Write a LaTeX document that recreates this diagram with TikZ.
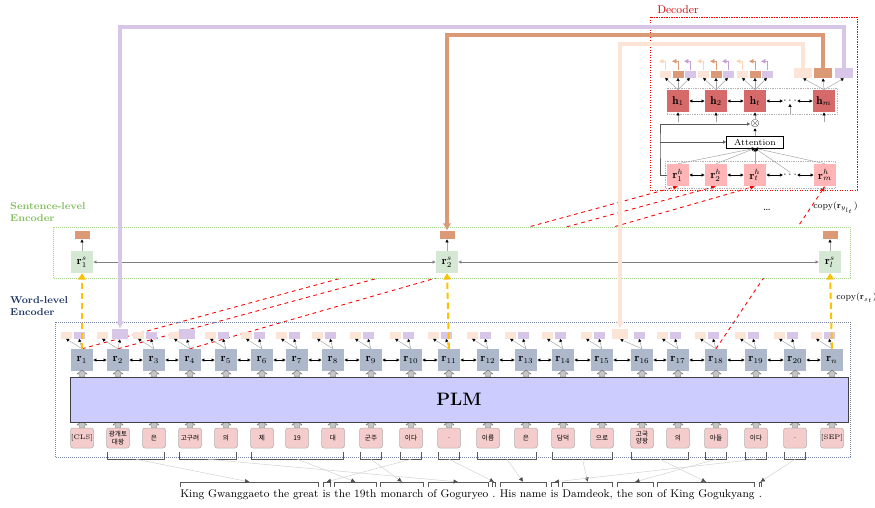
\documentclass[tikz,border=0pt]{standalone}
\usepackage{fontspec}
\newfontfamily\krfont{Noto Sans CJK KR}
\usetikzlibrary{arrows.meta,positioning,calc,backgrounds}

\definecolor{wordgray}{RGB}{173,185,202}
\definecolor{sentgreen}{RGB}{213,232,212}
\definecolor{hred}{RGB}{214,106,106}
\definecolor{rhpink}{RGB}{255,181,181}
\definecolor{tokpink}{RGB}{244,204,204}
\definecolor{peach}{RGB}{252,228,214}
\definecolor{copyorange}{RGB}{220,153,117}
\definecolor{lavender}{RGB}{215,198,232}
\definecolor{plmblue}{RGB}{204,204,255}
\definecolor{gold}{RGB}{255,192,0}
\definecolor{decred}{RGB}{204,0,0}
\definecolor{encgreen}{RGB}{130,190,90}
\definecolor{encblue}{RGB}{31,56,100}

\tikzset{
  uparr/.pic={\draw[fill=gray!45, draw=gray!75!black, line width=0.3pt]
    (-2.5,3) -- (-2.5,0) -- (-5,0) -- (0,-4) -- (5,0) -- (2.5,0) -- (2.5,3) -- cycle;}
}

\begin{document}
\begin{tikzpicture}[x=0.8pt, y=-0.8pt, every node/.style={inner sep=0pt, font=\small},
  wnode/.style={fill=wordgray, minimum width=17.6pt, minimum height=17.6pt},
  snode/.style={fill=sentgreen, minimum size=17.6pt},
  hnode/.style={fill=hred, minimum size=17.6pt},
  rhnode/.style={fill=rhpink, minimum size=17.6pt},
  sbox/.style={minimum width=8.8pt, minimum height=5.6pt},
  bigbox/.style={minimum width=12.8pt, minimum height=8pt},
  tok/.style={fill=tokpink, draw=gray!60, rounded corners=2pt, minimum width=18.4pt,
    minimum height=16pt, align=center, font=\krfont\fontsize{5.3}{5.8}\selectfont},
  biarr/.style={{Latex[length=2.5pt,width=2.8pt]}-{Latex[length=2.5pt,width=2.8pt]}, line width=0.5pt},
  smallarr/.style={gray!70, line width=0.4pt, -{Latex[length=2.5pt,width=2.8pt,color=black]}},
  fbtip/.style={line width=0.4pt, -{Latex[length=3.5pt,width=4pt]}},
  copyline/.style={line width=2.8pt, -{Latex[length=6pt,width=7pt]}},
  reddash/.style={red, dashed, line width=0.7pt, -{Latex[length=4pt,width=4pt]}},
  golddash/.style={gold, line width=1.6pt, dash pattern=on 5pt off 3pt, -{Triangle[length=5pt,width=6pt]}},
  eword/.style={font=\fontsize{8.9}{11}\selectfont, text height=6.3pt, text depth=0pt},
  link/.style={gray!35, line width=0.4pt, -{Latex[length=3.5pt,width=3.5pt,color=gray!60!black]}},
  brk/.style={gray!70!black, line width=0.5pt}]
\useasboundingbox (0,0) rectangle (875,507);

% word-level encoder
\draw[encblue!60, densely dotted, line width=0.6pt] (55,322) rectangle (850,457);
\node[font=\footnotesize\bfseries, text=encblue, align=left, anchor=north west] (wlab) at (10,296) {Word-level\\Encoder};
\foreach \x [count=\i] in {82,118,154,190,226,262,297,333,371,411,449,488,526,563,602,642,678,716,756,795,832} {
  \node[wnode] (w\i) at (\x,360) {$\mathbf{r}_{\ifnum\i=21 n\else\i\fi}$};
  \ifnum\i=16 \node[bigbox, fill=peach] (p\i) at (\x-22,334) {};
  \else \node[sbox, fill=peach] (p\i) at (\x-16,335) {}; \fi
  \ifnum\i=2 \node[bigbox, fill=lavender] (l\i) at (\x+2,334) {};
  \else\ifnum\i=4 \node[bigbox, fill=lavender] (l\i) at (\x-3,334) {};
  \else \node[sbox, fill=lavender] (l\i) at (\x-3,335) {}; \fi\fi
  \draw[smallarr] (w\i.north) -- (p\i.south);
  \draw[smallarr] (w\i.north) -- (l\i.south);
  \pic at (\x,374) {uparr};
  \pic at (\x,425) {uparr};
}
\foreach \i [evaluate=\i as \j using int(\i+1)] in {1,...,20}
  \draw[biarr] (w\i) -- (w\j);
\node[draw=gray!50!black, fill=plmblue, minimum width=622.4pt, minimum height=36pt, font=\Large\bfseries] (plm) at (459,399.5) {PLM};

% input tokens
\foreach \x/\t [count=\i] in {82/{\rmfamily[CLS]},118/{광개토\\대왕},154/은,190/고구려,226/의,262/제,297/19,333/대,371/군주,411/이다,449/.,488/이름,526/은,563/담덕,602/으로,642/{고국\\양왕},678/의,716/아들,756/이다,795/.,832/{\rmfamily[SEP]}}
  \node[tok] (t\i) at (\x,438) {\t};
\foreach \a/\b [count=\n] in {2/3,4/5,6/8,9/9,10/10,11/11,12/13,14/15,16/17,18/18,19/19,20/20} {
  \draw[brk] ($(t\a.south west)+(1,4)$) -- ($(t\a.south west)+(1,11)$) -- ($(t\b.south east)+(-1,11)$) -- ($(t\b.south east)+(-1,4)$);
  \coordinate (k\n) at ($(t\a.south west)!0.5!(t\b.south east)+(0,11)$);
}

% english sentence
\node[eword, anchor=base west] (e1) at (180,497) {King Gwanggaeto the great};
\node[eword, base right=2.9pt of e1] (e2) {is};
\node[eword, base right=2.9pt of e2] (e3) {the 19th};
\node[eword, base right=2.9pt of e3] (e4) {monarch};
\node[eword, base right=2.9pt of e4] (e5) {of Goguryeo};
\node[eword, base right=2.9pt of e5] (e6) {.};
\node[eword, base right=2.9pt of e6] (e7) {His name};
\node[eword, base right=2.9pt of e7] (e8) {is};
\node[eword, base right=2.9pt of e8] (e9) {Damdeok,};
\node[eword, base right=2.9pt of e9] (e10) {the son};
\node[eword, base right=2.9pt of e10] (e11) {of King Gogukyang};
\node[eword, base right=2.9pt of e11] (e12) {.};
\foreach \n in {1,...,12} {
  \draw[brk] ($(e\n.north west)+(0.5,-2)$) -- ++(0,-5) -| ($(e\n.north east)+(-0.5,-2)$);
  \coordinate (b\n) at ($(e\n.north)+(0,-7)$);
}
\foreach \k/\e in {1/1,2/5,3/3,4/4,5/2,6/6,7/7,8/9,9/11,10/10,11/8,12/12}
  \draw[link] (k\k) -- (b\e);

% decoder
\draw[red, dash pattern=on 1pt off 1pt, line width=0.5pt] (650,17) rectangle (857,190);
\node[text=decred, anchor=west] (declab) at (657,10) {Decoder};
\draw[gray!60, densely dotted] (667,88) rectangle (837,114);
\draw[gray!60, densely dotted] (665,161) rectangle (835,188);
\node[hnode] (h1) at (678,101) {$\mathbf{h}_1$};
\node[hnode] (h2) at (716,101) {$\mathbf{h}_2$};
\node[hnode] (ht) at (755,101) {$\mathbf{h}_t$};
\node (hd) at (790,101) {$\cdots$};
\node[hnode] (hm) at (824,101) {$\mathbf{h}_m$};
\draw[biarr] (h1) -- (h2);
\draw[biarr] (h2) -- (ht);
\draw[biarr] (ht) -- (hd);
\draw[biarr] (hd) -- (hm);
\foreach \n in {h1,h2,ht} {
  \node[sbox, fill=peach] (\n p) at ($(\n)+(-13,-27)$) {};
  \node[sbox, fill=copyorange] (\n o) at ($(\n)+(0,-27)$) {};
  \node[sbox, fill=lavender] (\n l) at ($(\n)+(12,-27)$) {};
  \draw[smallarr] (\n.north) -- (\n p.south);
  \draw[smallarr] (\n.north) -- (\n o.south);
  \draw[smallarr] (\n.north) -- (\n l.south);
  \draw[fbtip, peach!85!orange] (\n p.north) -- ++(0,-9) -- ++(-6,0);
  \draw[fbtip, copyorange] (\n o.north) -- ++(0,-9) -- ++(-6,0);
  \draw[fbtip, lavender!80!violet] (\n l.north) -- ++(0,-9) -- ++(-6,0);
}
\node[minimum width=14.4pt, minimum height=8pt, fill=peach] (hmp) at (803,73) {};
\node[minimum width=14.4pt, minimum height=8pt, fill=copyorange] (hmo) at (823,73) {};
\node[minimum width=14.4pt, minimum height=8pt, fill=lavender] (hml) at (844,73) {};
\draw[smallarr] (hm.north) -- (hmp.south);
\draw[smallarr] (hm.north) -- (hmo.south);
\draw[smallarr] (hm.north) -- (hml.south);

\node[rhnode] (rh1) at (678,175) {$\mathbf{r}^h_1$};
\node[rhnode] (rh2) at (716,175) {$\mathbf{r}^h_2$};
\node[rhnode] (rht) at (755,175) {$\mathbf{r}^h_t$};
\node (rhd) at (790,175) {$\cdots$};
\node[rhnode] (rhm) at (825,175) {$\mathbf{r}^h_m$};
\draw[biarr] (rh1) -- (rh2);
\draw[biarr] (rh2) -- (rht);
\draw[biarr] (rht) -- (rhd);
\draw[biarr] (rhd) -- (rhm);
\node[draw, fill=white, minimum width=45.6pt, minimum height=9.6pt, font=\scriptsize] (att) at (755,142) {Attention};
\node (mul) at (755,124) {$\otimes$};
\foreach \n in {rh1,rh2,rht,rhd,rhm}
  \draw[smallarr] (\n.north) -- (att.south);
\draw[smallarr] (att) -- (mul);
\draw[smallarr] (mul) -- (ht);
\foreach \n in {h1,h2,hd,hm}
  \draw[smallarr] ($(\n.south)+(0,10)$) -- (\n.south);
\coordinate (lft) at (660,142);
\draw[gray!70!black, line width=0.4pt, -{Latex[length=2.5pt,width=2.8pt]}] (rh1.west) -| (lft) |- (mul.west);
\draw[gray!70!black, line width=0.4pt, -{Latex[length=2.5pt,width=2.8pt]}] (lft) -- (att.west);

% sentence-level encoder (hides the copy links)
\node[snode] (s1) at (82,262) {$\mathbf{r}^s_1$};
\node[snode] (s2) at (447,262) {$\mathbf{r}^s_2$};
\node[snode] (sl) at (830,262) {$\mathbf{r}^s_l$};
\foreach \n in {s1,s2,sl} {
  \node[minimum width=12pt, minimum height=6.4pt, fill=copyorange] (\n o) at ($(\n)+(0,-27)$) {};
  \draw[smallarr] (\n) -- (\n o);
}
\draw[gray, biarr] (s1) -- (s2);
\draw[gray, biarr] (s2) -- (sl);
\node[font=\footnotesize\bfseries, text=encgreen, align=left, anchor=north west] (slab) at (10,202) {Sentence-level\\Encoder};
\begin{pgfonlayer}{background}
  \draw[reddash] (w1.north) -- (rh1.south);
  \draw[reddash] (w2.north) -- (rh2.south);
  \draw[reddash] (w4.north) -- (rht.south);
  \draw[reddash] (w18.north) -- (rhm.south);
  \draw[fill=white, draw=encgreen!70, densely dotted, line width=0.6pt] (53,227) rectangle (850,278);
\end{pgfonlayer}
\draw[golddash] (w1.north) -- (s1.south);
\draw[golddash] (w11.north) -- (s2.south);
\draw[golddash] (w21.north) -- (sl.south);
\node (sdots) at (767,210) {\dots};
\node[font=\scriptsize, anchor=west] (cpy1) at (813,208) {copy($\mathbf{r}_{y_{l_t}}$)};
\node[font=\scriptsize, anchor=west] (cpy2) at (836,298) {copy($\mathbf{r}_{s_t}$)};

% copy paths from the decoder
\draw[copyline, lavender] (hml.north) -- ++(0,-41) -| (l2.north);
\draw[copyline, copyorange] (hmo.north) -- ++(0,-33) -| (s2o.north);
\draw[copyline, peach] (hmp.north) -- ++(0,-24) -| (p16.north);
\end{tikzpicture}
\end{document}
